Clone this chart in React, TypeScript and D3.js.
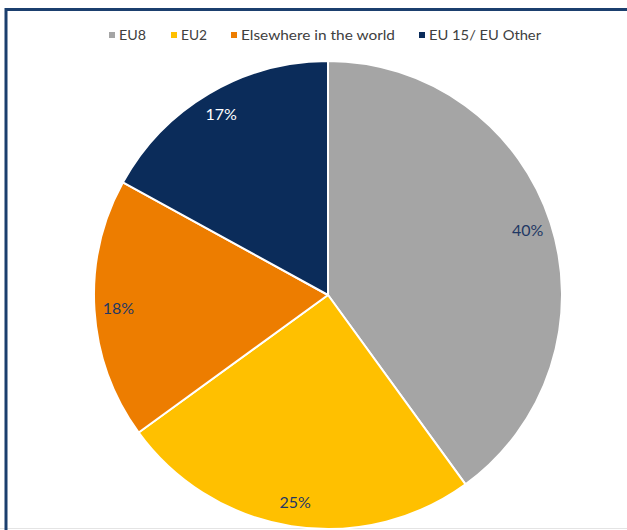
import React from "react";
import * as d3 from "d3";

const categories = ["EU8", "EU2", "Elsewhere in the world", "EU 15/ EU Other"];
const values = [40, 25, 18, 17];
const colors = ["#A5A5A5", "#FFC000", "#ED7D00", "#0B2C5A"];
const labelColors = ["#1F3864", "#1F3864", "#1F3864", "#FFFFFF"];
const legendX = [109, 171, 231, 419];
const legendTextLen = [27, 26, 154, 112];

export default function App() {
  const W = 627, H = 530;
  const cx = 328, cy = 295, r = 234;
  const pie = d3.pie<number>().sort(null).value((d) => d)(values);
  const arc = d3.arc<d3.PieArcDatum<number>>().innerRadius(0).outerRadius(r);
  const labelArc = d3.arc<d3.PieArcDatum<number>>().innerRadius(210).outerRadius(210);
  const total = d3.sum(values);
  return (
    <svg width={W} height={H} style={{ position: "fixed", left: 0, top: 0, background: "#fff" }}>
      <rect x={0} y={0} width={W} height={H} fill="#fff" />
      <line x1={0} x2={W} y1={528.5} y2={528.5} stroke="#e4e4e4" strokeWidth={1} />
      <g transform={`translate(${cx},${cy})`}>
        {pie.map((p, i) => (
          <path key={i} d={arc(p) || ""} fill={colors[i]} stroke="#fff" strokeWidth={2} strokeLinejoin="round" />
        ))}
        {pie.map((p, i) => {
          const [x, y] = labelArc.centroid(p);
          return (
            <text key={i} x={x} y={y} dy="0.36em" textAnchor="middle" fill={labelColors[i]}
              style={{ fontFamily: "Lato, 'Open Sans', sans-serif", fontSize: 16 }}>
              {`${Math.round((values[i] / total) * 100)}%`}
            </text>
          );
        })}
      </g>
      <path d={`M6,${H} V9.5 H${W}`} fill="none" stroke="#1B3F6E" strokeWidth={3} />
      <g style={{ fontFamily: "Lato, 'Open Sans', sans-serif", fontSize: 13.5 }}>
        {categories.map((c, i) => (
          <g key={c}>
            <rect x={legendX[i]} y={32} width={6} height={6} fill={colors[i]} />
            <text x={legendX[i] + 10} y={35} dy="0.36em" fill="#404040"
              textLength={legendTextLen[i]} lengthAdjust="spacingAndGlyphs">{c}</text>
          </g>
        ))}
      </g>
    </svg>
  );
}
